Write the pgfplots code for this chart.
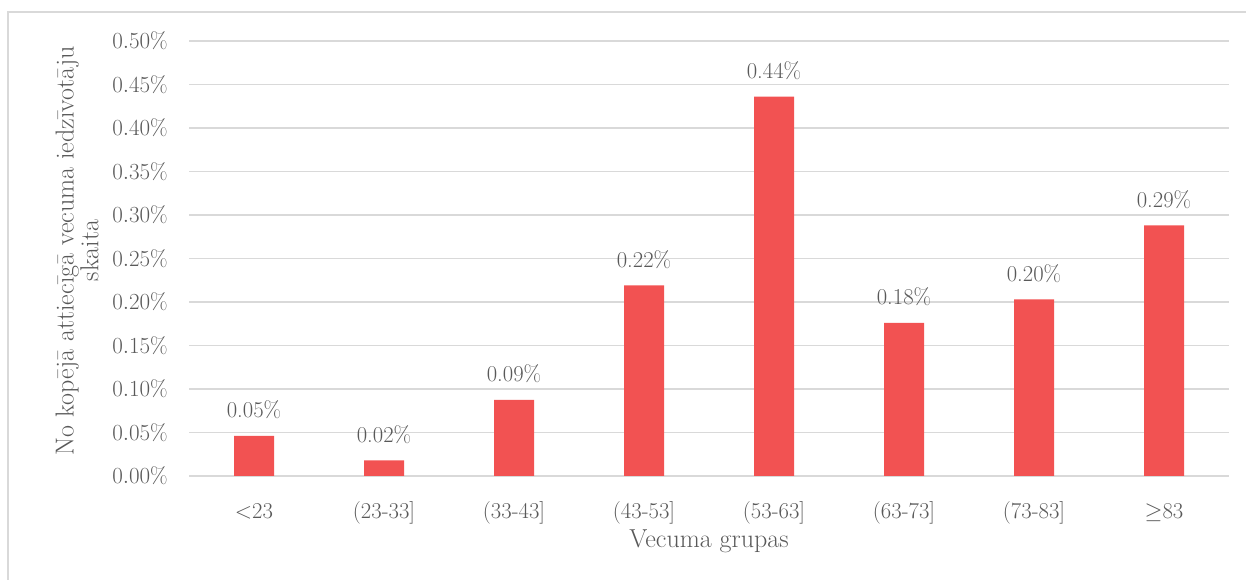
\documentclass[border=0pt]{standalone}
\usepackage{pgfplots}
\pgfplotsset{compat=1.18}
\definecolor{barred}{RGB}{242,82,82}
\definecolor{txtgray}{RGB}{89,89,89}
\definecolor{gridgray}{RGB}{217,217,217}
\definecolor{framegray}{RGB}{217,217,217}
\begin{document}
\begin{tikzpicture}
\useasboundingbox (0pt,0pt) rectangle (934.5pt,435pt);
\draw[framegray,line width=0.9pt] (6pt,-20pt) -- (6pt,426pt) -- (950pt,426pt);
\begin{axis}[
  at={(141.75pt,78pt)}, anchor=south west,
  scale only axis,
  width=780pt, height=326.25pt,
  ybar, bar width=30pt,
  xmin=-0.5, xmax=7.5,
  ymin=0, ymax=0.5,
  xtick={0,1,2,3,4,5,6,7},
  xticklabels={{<23},{(23-33]},{(33-43]},{(43-53]},{(53-63]},{(63-73]},{(73-83]},{$\geq$83}},
  ytick={0,0.05,0.1,0.15,0.2,0.25,0.3,0.35,0.4,0.45,0.5},
  yticklabel={\pgfmathprintnumber[fixed,fixed zerofill,precision=2]{\tick}\%},
  axis line style={draw=none},
  major tick style={draw=none},
  ymajorgrids, major grid style={gridgray,line width=1.1pt},
  tick label style={font=\fontsize{17}{20}\selectfont, text=txtgray},
  yticklabel style={anchor=east, inner sep=0pt, xshift=-15.75pt},
  xticklabel style={anchor=base, inner sep=0pt, yshift=-27.75pt},
  point meta=explicit symbolic,
  nodes near coords,
  every node near coord/.append style={font=\fontsize{17}{20}\selectfont, text=txtgray, anchor=base, inner sep=0pt, yshift=13.5pt},
  clip=false,
]
\addplot[fill=barred, draw=none] coordinates {
  (0,0.046) [0.05\%]
  (1,0.018) [0.02\%]
  (2,0.0875) [0.09\%]
  (3,0.219) [0.22\%]
  (4,0.436) [0.44\%]
  (5,0.176) [0.18\%]
  (6,0.203) [0.20\%]
  (7,0.288) [0.29\%]
};
\node[anchor=base, inner sep=0pt, text=txtgray, font=\fontsize{19.5}{22}\selectfont, yshift=-54pt] at (axis description cs:0.5,0) {Vecuma grupas};
\node[xshift=-84pt, yshift=6pt, rotate=90, align=center, anchor=center, inner sep=0pt, text=txtgray, font=\fontsize{19.5}{16.5}\selectfont] at (axis description cs:0,0.5) {No kopējā attiecīgā vecuma iedzīvotāju\\skaita};
\end{axis}
\end{tikzpicture}
\end{document}
